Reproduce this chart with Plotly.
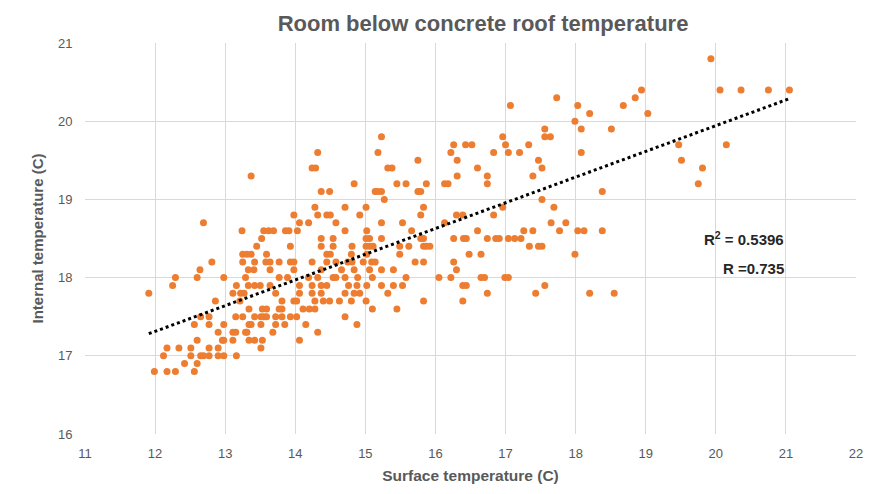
import numpy as np
import plotly.graph_objects as go

# Surface temperature (x) and internal temperature (y), one entry per reading
surface_temp = [
    19.93,
    18.94, 20.06, 20.36, 20.75, 21.05,
    17.73, 18.85,
    17.07, 18.03, 18.68,
    18.2, 19.03,
    17.99,
    17.56, 18.08, 18.51,
    15.23, 16.96, 17.56, 17.64,
    16.26, 16.43, 16.52, 17.0, 17.33, 19.47, 20.15,
    14.32, 15.18, 16.22, 16.83, 17.04, 17.2, 18.08,
    15.75, 16.31, 17.47, 19.51,
    14.24, 14.29, 15.32, 15.38, 16.6, 17.52, 19.81,
    13.37, 16.31, 16.74, 17.39,
    14.84, 15.45, 15.58, 15.87, 16.13, 16.18, 16.74, 19.75,
    14.37, 14.49, 15.14, 15.18, 15.23, 15.75, 15.79, 18.38,
    15.27, 17.52,
    14.28, 14.71, 15.01, 15.83, 16.96, 17.69,
    13.98, 14.32, 14.45, 14.5, 14.92, 15.79, 16.3, 16.39, 16.83,
    12.69, 14.06, 14.19, 14.58, 15.23, 15.53, 16.13, 17.65, 17.86,
    13.24, 13.55, 13.62, 13.69, 13.86, 13.91, 14.03, 14.71, 15.02, 15.66, 16.6, 17.26, 17.39, 17.77, 18.03, 18.12, 18.38,
    13.52, 14.37, 14.54, 15.01, 15.06, 15.23, 15.79, 15.83, 16.26, 16.4, 16.44, 16.74, 16.86, 16.91, 17.04, 17.13, 17.22,
    13.45, 13.93, 14.37, 14.54, 14.81, 15.01, 15.06, 15.11, 15.49, 15.62, 15.83, 15.87, 15.92, 17.34, 17.47, 17.52,
    13.25, 13.31, 13.37, 13.59, 14.45, 14.5, 14.8, 15.02, 15.49, 16.48, 16.65, 17.99,
    12.81, 13.25, 13.42, 13.58, 13.64, 13.77, 13.93, 13.98, 14.24, 14.45, 14.58, 14.75, 14.81, 14.97, 15.09, 15.14, 15.71, 15.83, 16.26,
    12.64, 13.33, 13.41, 13.64, 13.98, 14.37, 14.66, 14.84, 15.06, 15.23, 15.4, 16.3,
    12.29, 12.6, 12.98, 13.29, 13.77, 13.89, 14.19, 14.32, 14.54, 14.58, 14.71, 14.89, 15.1, 15.58, 16.05, 16.22, 16.65, 16.7, 16.99, 17.04,
    12.25, 13.16, 13.33, 13.42, 13.5, 13.64, 14.06, 14.24, 14.37, 14.45, 14.76, 14.88, 15.02, 15.23, 15.4, 15.53, 16.39, 16.44, 17.56,
    11.91, 13.11, 13.22, 13.27, 13.72, 14.06, 14.24, 14.37, 14.71, 14.84, 14.92, 15.32, 16.74, 17.43, 18.2, 18.55,
    12.86, 13.21, 13.81, 13.98, 14.02, 14.28, 14.4, 14.49, 14.63, 14.8, 15.01, 15.83, 16.39,
    13.34, 13.53, 13.59, 13.77, 13.81, 14.11, 14.2, 14.28, 15.1, 15.45,
    12.65, 12.77, 13.15, 13.25, 13.42, 13.51, 13.55, 13.59, 13.72, 13.81, 13.93, 14.02, 14.71,
    12.56, 12.77, 12.98, 13.34, 13.37, 13.51, 13.72, 13.85, 14.15, 14.88,
    12.9, 13.11, 13.15, 13.29, 13.31, 13.68, 14.32,
    12.6, 12.96, 12.98, 13.11, 13.34, 13.42, 13.53, 14.06,
    12.17, 12.34, 12.51, 12.77, 12.9, 13.51,
    12.12, 12.51, 12.65, 12.69, 12.77, 12.9, 12.98, 13.16,
    12.42, 12.6,
    11.99, 12.17, 12.29, 12.56,
]

internal_temp = [
    20.8,
    20.4, 20.4, 20.4, 20.4, 20.4,
    20.3, 20.3,
    20.2, 20.2, 20.2,
    20.1, 20.1,
    20.0,
    19.9, 19.9, 19.9,
    19.8, 19.8, 19.8, 19.8,
    19.7, 19.7, 19.7, 19.7, 19.7, 19.7, 19.7,
    19.6, 19.6, 19.6, 19.6, 19.6, 19.6, 19.6,
    19.5, 19.5, 19.5, 19.5,
    19.4, 19.4, 19.4, 19.4, 19.4, 19.4, 19.4,
    19.3, 19.3, 19.3, 19.3,
    19.2, 19.2, 19.2, 19.2, 19.2, 19.2, 19.2, 19.2,
    19.1, 19.1, 19.1, 19.1, 19.1, 19.1, 19.1, 19.1,
    19.0, 19.0,
    18.9, 18.9, 18.9, 18.9, 18.9, 18.9,
    18.8, 18.8, 18.8, 18.8, 18.8, 18.8, 18.8, 18.8, 18.8,
    18.7, 18.7, 18.7, 18.7, 18.7, 18.7, 18.7, 18.7, 18.7,
    18.6, 18.6, 18.6, 18.6, 18.6, 18.6, 18.6, 18.6, 18.6, 18.6, 18.6, 18.6, 18.6, 18.6, 18.6, 18.6, 18.6,
    18.5, 18.5, 18.5, 18.5, 18.5, 18.5, 18.5, 18.5, 18.5, 18.5, 18.5, 18.5, 18.5, 18.5, 18.5, 18.5, 18.5,
    18.4, 18.4, 18.4, 18.4, 18.4, 18.4, 18.4, 18.4, 18.4, 18.4, 18.4, 18.4, 18.4, 18.4, 18.4, 18.4,
    18.3, 18.3, 18.3, 18.3, 18.3, 18.3, 18.3, 18.3, 18.3, 18.3, 18.3, 18.3,
    18.2, 18.2, 18.2, 18.2, 18.2, 18.2, 18.2, 18.2, 18.2, 18.2, 18.2, 18.2, 18.2, 18.2, 18.2, 18.2, 18.2, 18.2, 18.2,
    18.1, 18.1, 18.1, 18.1, 18.1, 18.1, 18.1, 18.1, 18.1, 18.1, 18.1, 18.1,
    18.0, 18.0, 18.0, 18.0, 18.0, 18.0, 18.0, 18.0, 18.0, 18.0, 18.0, 18.0, 18.0, 18.0, 18.0, 18.0, 18.0, 18.0, 18.0, 18.0,
    17.9, 17.9, 17.9, 17.9, 17.9, 17.9, 17.9, 17.9, 17.9, 17.9, 17.9, 17.9, 17.9, 17.9, 17.9, 17.9, 17.9, 17.9, 17.9,
    17.8, 17.8, 17.8, 17.8, 17.8, 17.8, 17.8, 17.8, 17.8, 17.8, 17.8, 17.8, 17.8, 17.8, 17.8, 17.8,
    17.7, 17.7, 17.7, 17.7, 17.7, 17.7, 17.7, 17.7, 17.7, 17.7, 17.7, 17.7, 17.7,
    17.6, 17.6, 17.6, 17.6, 17.6, 17.6, 17.6, 17.6, 17.6, 17.6,
    17.5, 17.5, 17.5, 17.5, 17.5, 17.5, 17.5, 17.5, 17.5, 17.5, 17.5, 17.5, 17.5,
    17.4, 17.4, 17.4, 17.4, 17.4, 17.4, 17.4, 17.4, 17.4, 17.4,
    17.3, 17.3, 17.3, 17.3, 17.3, 17.3, 17.3,
    17.2, 17.2, 17.2, 17.2, 17.2, 17.2, 17.2, 17.2,
    17.1, 17.1, 17.1, 17.1, 17.1, 17.1,
    17.0, 17.0, 17.0, 17.0, 17.0, 17.0, 17.0, 17.0,
    16.9, 16.9,
    16.8, 16.8, 16.8, 16.8,
]

x_ticks = [11, 12, 13, 14, 15, 16, 17, 18, 19, 20, 21, 22]
y_ticks = [16, 17, 18, 19, 20, 21]
r_squared_label = "0.5396"
r_label = "0.735"

n = min(len(surface_temp), len(internal_temp))
xs = np.array(surface_temp[:n])
ys = np.array(internal_temp[:n])

slope, intercept = np.polyfit(xs, ys, 1)
trend_x = np.array([xs.min(), xs.max()])
trend_y = slope * trend_x + intercept

GREY = "#595959"
FONT = "Liberation Sans, Arial"
CLEAR = "rgba(0,0,0,0)"

fig = go.Figure()
fig.add_trace(go.Scatter(
    x=xs, y=ys, mode="markers",
    marker=dict(color="#ED7D31", size=7, line=dict(width=0)),
    showlegend=False, hoverinfo="x+y",
))
fig.add_trace(go.Scatter(
    x=trend_x, y=trend_y, mode="lines",
    line=dict(color="black", width=3, dash="dot"),
    showlegend=False, hoverinfo="skip",
))

fig.add_annotation(x=21.0, y=18.5, xref="x", yref="y",
                   text="R<sup>2</sup> = " + r_squared_label, showarrow=False,
                   xanchor="right", yanchor="middle",
                   font=dict(family=FONT, size=15, color="#262626", weight="bold"))
fig.add_annotation(x=21.0, y=18.12, xref="x", yref="y",
                   text="R =" + r_label, showarrow=False,
                   xanchor="right", yanchor="middle",
                   font=dict(family=FONT, size=15, color="#262626", weight="bold"))

fig.update_layout(
    width=875, height=494,
    margin=dict(l=85, r=13, t=43, b=60),
    paper_bgcolor="white", plot_bgcolor="white",
    title=dict(text="Room below concrete roof temperature",
               x=0.552, xanchor="center", y=0.953, yanchor="middle",
               font=dict(family=FONT, size=22, color=GREY, weight="bold")),
    xaxis=dict(range=[11, 22], tickvals=x_ticks, showgrid=True, gridcolor="#D9D9D9",
               gridwidth=1, zeroline=False, showline=False,
               ticks="outside", ticklen=7, tickcolor=CLEAR,
               tickfont=dict(family=FONT, size=13, color=GREY),
               title=dict(text="Surface temperature (C)", standoff=10,
                          font=dict(family=FONT, size=15.5, color=GREY, weight="bold"))),
    yaxis=dict(range=[16, 21], tickvals=y_ticks, showgrid=True, gridcolor="#D9D9D9",
               gridwidth=1, zeroline=False, showline=False,
               ticks="outside", ticklen=9, tickcolor=CLEAR,
               tickfont=dict(family=FONT, size=13, color=GREY),
               title=dict(text="Internal temperature (C)", standoff=10,
                          font=dict(family=FONT, size=15, color=GREY, weight="bold"))),
)

fig.write_html("out.html")
